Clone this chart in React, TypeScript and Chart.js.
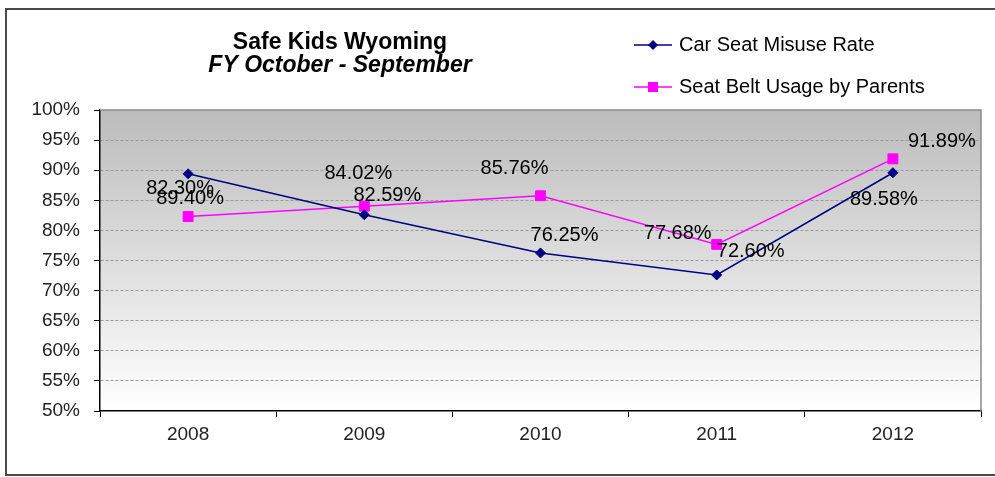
import React, { useEffect, useRef } from 'react';
import { Chart, registerables } from 'chart.js';

Chart.register(...registerables);

// ---- data ----
const categories = ['2008', '2009', '2010', '2011', '2012'];
const carSeatMisuse = [89.4, 82.59, 76.25, 72.6, 89.58];
const seatBeltUsage = [82.3, 84.02, 85.76, 77.68, 91.89];
const seriesNames = ['Car Seat Misuse Rate', 'Seat Belt Usage by Parents'];
const titleLines = ['Safe Kids Wyoming', 'FY October - September'];
const yMin = 50;
const yMax = 100;
const yStep = 5;

// ---- label placement (pixel offsets from each point, as in the original) ----
const carLabelOffsets = [[2, 25], [23, -19], [24, -17], [34, -23], [-9, 27]];
const beltLabelOffsets = [[-8, -28], [-6, -33], [-26, -27], [-39, -11], [49, -17]];

const FONT = '"Liberation Sans", Arial, sans-serif';
const NAVY = '#000080';
const MAGENTA = '#ff00ff';

function drawMarker(ctx: CanvasRenderingContext2D, style: string, x: number, y: number, color: string) {
  ctx.save();
  ctx.fillStyle = color;
  ctx.beginPath();
  if (style === 'diamond') {
    const r = 5;
    ctx.moveTo(x, y - r);
    ctx.lineTo(x + r, y);
    ctx.lineTo(x, y + r);
    ctx.lineTo(x - r, y);
    ctx.closePath();
  } else {
    const h = 5;
    ctx.rect(x - h, y - h, 2 * h, 2 * h);
  }
  ctx.fill();
  ctx.restore();
}

const decorPlugin = {
  id: 'decor',
  beforeDraw(chart: any) {
    const { ctx, chartArea: a } = chart;
    ctx.save();
    ctx.fillStyle = '#ffffff';
    ctx.fillRect(0, 0, chart.width, chart.height);
    ctx.strokeStyle = '#4a4a4a';
    ctx.lineWidth = 2;
    ctx.strokeRect(6, 9, chart.width + 10, 466);
    const g = ctx.createLinearGradient(0, a.top, 0, a.bottom);
    g.addColorStop(0, '#bcbcbc');
    g.addColorStop(1, '#ffffff');
    ctx.fillStyle = g;
    ctx.fillRect(a.left, a.top, a.right - a.left, a.bottom - a.top);
    ctx.restore();
  },
  afterDatasetsDraw(chart: any) {
    const { ctx } = chart;
    ctx.save();
    ctx.font = `20px ${FONT}`;
    ctx.fillStyle = '#000';
    ctx.textAlign = 'center';
    ctx.textBaseline = 'middle';
    const offsets = [carLabelOffsets, beltLabelOffsets];
    chart.data.datasets.forEach((ds: any, di: number) => {
      const meta = chart.getDatasetMeta(di);
      meta.data.forEach((pt: any, i: number) => {
        const [dx, dy] = offsets[di][i];
        ctx.fillText(Number(ds.data[i]).toFixed(2) + '%', pt.x + dx, pt.y + dy);
      });
    });
    ctx.restore();
  },
  afterDraw(chart: any) {
    const { ctx, chartArea: a } = chart;
    ctx.save();
    // plot area top/right border
    ctx.strokeStyle = '#8a8a8a';
    ctx.lineWidth = 1.5;
    ctx.beginPath();
    ctx.moveTo(a.left, a.top);
    ctx.lineTo(a.right, a.top);
    ctx.lineTo(a.right, a.bottom);
    ctx.stroke();

    // title
    ctx.fillStyle = '#000';
    ctx.textAlign = 'center';
    ctx.textBaseline = 'middle';
    ctx.font = `bold 23px ${FONT}`;
    ctx.fillText(titleLines[0], 340, 43);
    ctx.font = `italic bold 23px ${FONT}`;
    ctx.fillText(titleLines[1], 340, 66);

    // legend
    const rows = [
      { y: 45, color: NAVY, marker: 'diamond' },
      { y: 87, color: MAGENTA, marker: 'square' },
    ];
    ctx.font = `20px ${FONT}`;
    ctx.textAlign = 'left';
    rows.forEach((r, i) => {
      ctx.strokeStyle = r.color;
      ctx.lineWidth = 1.5;
      ctx.beginPath();
      ctx.moveTo(634, r.y);
      ctx.lineTo(672, r.y);
      ctx.stroke();
      drawMarker(ctx, r.marker, 653, r.y, r.color);
      ctx.fillStyle = '#000';
      ctx.fillText(seriesNames[i], 679, r.y);
    });
    ctx.restore();
  },
};

export default function App() {
  const canvasRef = useRef<HTMLCanvasElement | null>(null);

  useEffect(() => {
    const canvas = canvasRef.current;
    if (!canvas) return;
    const chart = new Chart(canvas, {
      type: 'line',
      data: {
        labels: categories,
        datasets: [
          {
            label: seriesNames[0],
            data: carSeatMisuse,
            borderColor: NAVY,
            backgroundColor: NAVY,
            borderWidth: 1.5,
            pointStyle: 'rectRot',
            pointRadius: 5,
            pointBorderWidth: 1,
            pointBorderColor: NAVY,
            pointBackgroundColor: NAVY,
            tension: 0,
          },
          {
            label: seriesNames[1],
            data: seatBeltUsage,
            borderColor: MAGENTA,
            backgroundColor: MAGENTA,
            borderWidth: 1.5,
            pointStyle: 'rect',
            pointRadius: 7,
            pointBorderWidth: 1,
            pointBorderColor: MAGENTA,
            pointBackgroundColor: MAGENTA,
            tension: 0,
          },
        ],
      },
      options: {
        responsive: false,
        animation: false,
        layout: { padding: { top: 110, right: 14, left: 0, bottom: 0 } },
        plugins: {
          legend: { display: false },
          title: { display: false },
          tooltip: { enabled: false },
        },
        scales: {
          x: {
            type: 'category',
            offset: true,
            grid: {
              offset: true,
              drawOnChartArea: false,
              drawTicks: true,
              tickLength: 6,
              tickColor: '#000',
              tickWidth: 1,
            },
            border: { color: '#000', width: 1.5 },
            ticks: { font: { size: 19, family: FONT }, color: '#222', padding: 6 },
            afterFit: (s: any) => {
              s.height = 66;
            },
          },
          y: {
            min: yMin,
            max: yMax,
            ticks: {
              stepSize: yStep,
              callback: (v: any) => v + '%',
              font: { size: 19, family: FONT },
              color: '#222',
              padding: 14,
            },
            grid: {
              color: (c: any) =>
                c.tick && (c.tick.value === yMax || c.tick.value === yMin) ? 'rgba(0,0,0,0)' : '#9a9a9a',
              lineWidth: 1,
              tickLength: 6,
              tickColor: '#000',
              tickWidth: 1,
            },
            border: { color: '#000', width: 1.5, dash: [3, 2] },
            afterFit: (s: any) => {
              s.width = 100;
            },
          },
        },
      },
      plugins: [decorPlugin],
    });
    return () => chart.destroy();
  }, []);

  return (
    <div style={{ position: 'fixed', left: 0, top: 0, width: 995, height: 477, background: '#fff' }}>
      <canvas ref={canvasRef} width={995} height={477} style={{ display: 'block' }} />
    </div>
  );
}
